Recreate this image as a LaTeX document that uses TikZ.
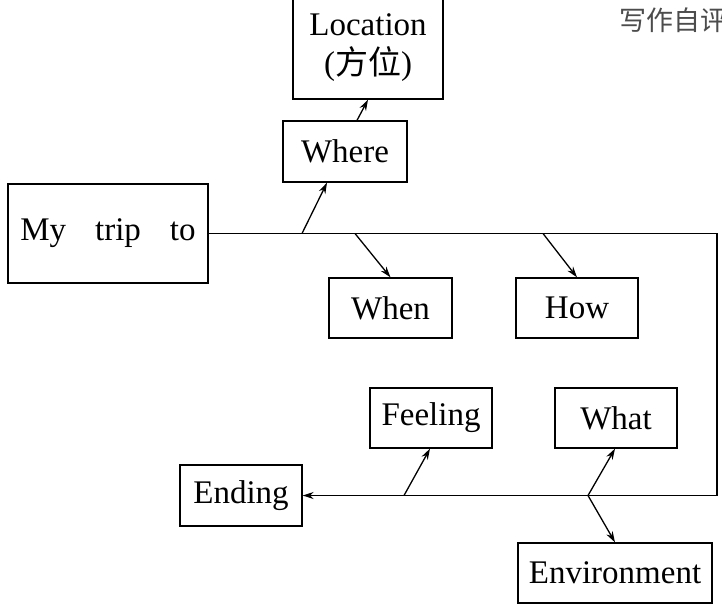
\documentclass[tikz,border=0pt]{standalone}
\usepackage{fontspec}
\setmainfont{Liberation Serif}
\newfontfamily\cjk{Noto Sans CJK SC}
\usetikzlibrary{arrows.meta}

\tikzset{
    box/.style = {draw, line width=1.3pt, inner sep=0pt, align=center,
        font=\fontsize{33}{39}\selectfont},
    conn/.style = {line width=1.3pt},
    tip/.style = {-{Stealth[length=11pt,width=7pt]}}
}

\begin{document}
\begin{tikzpicture}[x=1pt, y=-1pt]
\useasboundingbox (0,0) rectangle (722,605);
\node[anchor=west, text=black!70, font=\cjk\fontsize{27}{27}\selectfont] (selfcheck) at (616,20) {写作自评};

\node[box, minimum width=150pt, minimum height=102pt] (loc) at (368,48) {Location\\({\cjk 方位})};
\node[box, minimum width=124pt, minimum height=61pt] (where) at (345,151.5) {Where};
\node[box, minimum width=200pt, minimum height=99pt] (trip) at (108,233.5) {My\hspace{29pt}trip\hspace{29pt}to};
\node[box, minimum width=123pt, minimum height=60pt] (when) at (390.5,308) {When};
\node[box, minimum width=122pt, minimum height=60pt] (how) at (577,308) {How};
\node[box, minimum width=122pt, minimum height=60pt] (feel) at (431,418) {Feeling};
\node[box, minimum width=122pt, minimum height=60pt] (what) at (616,418) {What};
\node[box, minimum width=122pt, minimum height=61pt] (end) at (241,495.5) {Ending};
\node[box, minimum width=194pt, minimum height=60pt] (env) at (615,573) {Environment};

% the line round the plan
\coordinate (ne) at (717,233.5);
\coordinate (se) at (717,495.5);
\draw[conn, tip] (trip.east) -- (ne) -- (se) -- (end.east);

% branches
\coordinate (bwhere) at (302,233.5);
\coordinate (bwhen) at (355,233.5);
\coordinate (bhow) at (543,233.5);
\coordinate (bfeel) at (404,495.5);
\coordinate (bwhat) at (588,495.5);
\draw[conn, tip] (bwhere) -- ([xshift=-18pt]where.south);
\draw[conn, tip] ([xshift=12pt]where.north) -- (loc.south);
\draw[conn, tip] (bwhen) -- (when.north);
\draw[conn, tip] (bhow) -- (how.north);
\draw[conn, tip] (bfeel) -- ([xshift=-1pt]feel.south);
\draw[conn, tip] (bwhat) -- ([xshift=-1pt]what.south);
\draw[conn, tip] (bwhat) -- (env.north);
\end{tikzpicture}
\end{document}
